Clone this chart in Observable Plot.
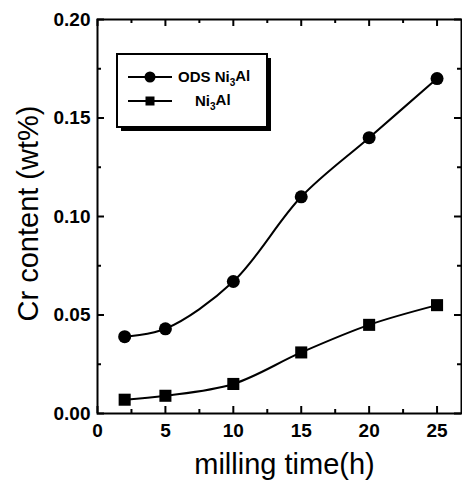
<!DOCTYPE html>
<html><head><meta charset="utf-8">
<script src="https://cdn.jsdelivr.net/npm/d3@7"></script>
<script src="https://cdn.jsdelivr.net/npm/@observablehq/plot@0.6"></script>
<style>body{margin:0;background:#fff} #chart{position:relative;width:462px;height:485px}</style>
</head><body><div id="chart"></div>
<script>
const millingTime = [2, 5, 10, 15, 20, 25];
const odsNi3Al = [0.039, 0.043, 0.067, 0.110, 0.140, 0.170];
const ni3Al = [0.007, 0.009, 0.015, 0.031, 0.045, 0.055];
const seriesNames = ["ODS Ni3Al", "Ni3Al"];
const xMajorTicks = [0, 5, 10, 15, 20, 25];
const xMinorTicks = [2.5, 7.5, 12.5, 17.5, 22.5];
const yMajorTicks = [0, 0.05, 0.10, 0.15, 0.20];
const yMinorTicks = [0.025, 0.075, 0.125, 0.175];
const xLabel = "milling time(h)";
const yLabel = "Cr content (wt%)";

const W = 462, H = 485, mL = 97, mR = 1, mT = 19, mB = 72;
const pw = W - mL - mR, ph = H - mT - mB;
const font = "'Liberation Sans', Arial, sans-serif";

const rows = millingTime.flatMap((t, i) => [
  {t, v: odsNi3Al[i], s: seriesNames[0]},
  {t, v: ni3Al[i], s: seriesNames[1]}
]);

const major = 7, minor = 4, tw = 2;
const plot = Plot.plot({
  width: W, height: H,
  marginLeft: mL, marginRight: mR, marginTop: mT, marginBottom: mB,
  style: {fontFamily: font, background: "#fff", color: "#000"},
  x: {domain: [0, 26.8]},
  y: {domain: [0, 0.2]},
  marks: [
    Plot.frame({stroke: "#000", strokeWidth: 2}),
    Plot.ruleX(xMajorTicks, {insetTop: ph - major, stroke: "#000", strokeWidth: tw}),
    Plot.ruleX(xMajorTicks, {insetBottom: ph - major, stroke: "#000", strokeWidth: tw}),
    Plot.ruleX(xMinorTicks, {insetTop: ph - minor, stroke: "#000", strokeWidth: tw}),
    Plot.ruleX(xMinorTicks, {insetBottom: ph - minor, stroke: "#000", strokeWidth: tw}),
    Plot.ruleY(yMajorTicks, {insetRight: pw - major, stroke: "#000", strokeWidth: tw}),
    Plot.ruleY(yMajorTicks, {insetLeft: pw - major, stroke: "#000", strokeWidth: tw}),
    Plot.ruleY(yMinorTicks, {insetRight: pw - minor, stroke: "#000", strokeWidth: tw}),
    Plot.ruleY(yMinorTicks, {insetLeft: pw - minor, stroke: "#000", strokeWidth: tw}),
    Plot.axisX({ticks: xMajorTicks, tickSize: 0, tickPadding: 10, fontSize: 19, fontWeight: "bold", label: null}),
    Plot.axisY({ticks: yMajorTicks, tickSize: 0, tickPadding: 7, fontSize: 19, fontWeight: "bold", tickFormat: d3.format(".2f"), label: null}),
    Plot.line(rows, {x: "t", y: "v", z: "s", curve: "catmull-rom", stroke: "#000", strokeWidth: 2}),
    Plot.dot(rows.filter(d => d.s === seriesNames[0]), {x: "t", y: "v", symbol: "circle", r: 6.5, fill: "#000"}),
    Plot.dot(rows.filter(d => d.s === seriesNames[1]), {x: "t", y: "v", symbol: "square", r: 6.8, fill: "#000"}),
    Plot.text([xLabel], {frameAnchor: "bottom", dy: 51, dx: 5, fontSize: 29, textAnchor: "middle", lineAnchor: "middle", fill: "#000"}),
    Plot.text([yLabel], {frameAnchor: "left", dx: -69, dy: -3, rotate: -90, fontSize: 29, textAnchor: "middle", lineAnchor: "middle", fill: "#000"})
  ]
});
document.getElementById("chart").appendChild(plot);

// legend
const svg = d3.select(plot);
const lg = svg.append("g").attr("font-family", font).attr("font-size", 15).attr("font-weight", "bold").attr("text-anchor", "start");
const bx = 117, by = 54, bw = 150, bh = 73;
lg.append("rect").attr("x", bx + 4).attr("y", by + 4).attr("width", bw).attr("height", bh).attr("fill", "#000");
lg.append("rect").attr("x", bx).attr("y", by).attr("width", bw).attr("height", bh).attr("fill", "#fff").attr("stroke", "#000").attr("stroke-width", 2);
const legendRows = [
  {name: seriesNames[0], y: by + 23, tx: bx + 61, sym: "circle"},
  {name: seriesNames[1], y: by + 47, tx: bx + 78, sym: "square"}
];
for (const r of legendRows) {
  lg.append("line").attr("x1", bx + 11).attr("x2", bx + 55).attr("y1", r.y).attr("y2", r.y).attr("stroke", "#000").attr("stroke-width", 2);
  if (r.sym === "circle") lg.append("circle").attr("cx", bx + 33).attr("cy", r.y).attr("r", 5.5).attr("fill", "#000");
  else lg.append("rect").attr("x", bx + 28.5).attr("y", r.y - 4.5).attr("width", 9).attr("height", 9).attr("fill", "#000");
  const t = lg.append("text").attr("x", r.tx).attr("y", r.y).attr("dy", "0.35em").attr("fill", "#000");
  const parts = r.name.match(/^(.*Ni)(3)(Al)$/);
  t.append("tspan").text(parts[1]);
  t.append("tspan").attr("font-size", 10).attr("dy", "0.35em").text(parts[2]);
  t.append("tspan").attr("dy", "-0.35em").text(parts[3]);
}
</script>
</body></html>
